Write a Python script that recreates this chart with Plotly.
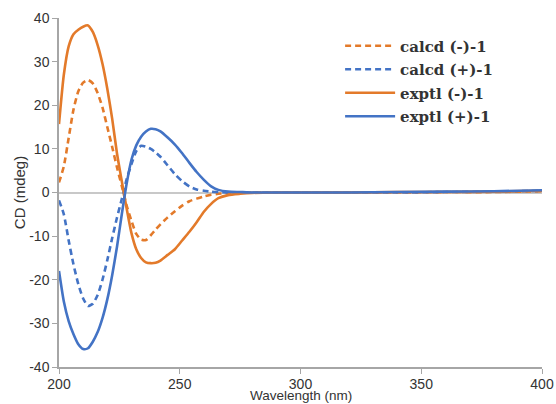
import plotly.graph_objects as go

# Wavelength grid (nm)
wavelength = [200, 202, 204, 206, 208, 210, 212, 214, 216, 218, 220, 222, 224, 226,
              228, 230, 232, 234, 236, 238, 240, 242, 245, 248, 251, 254, 257, 260,
              263, 266, 270, 275, 280, 290, 300, 320, 340, 360, 380, 400]

calcd_minus = [2.3, 6.0, 12.5, 19.0, 23.2, 25.2, 25.8, 25.0, 22.8, 19.5, 15.0, 10.5, 5.8, 1.5,
               -3.0, -6.5, -9.5, -10.8, -10.9, -9.8, -8.5, -7.3, -5.7, -4.3, -3.0, -2.0, -1.4, -0.9,
               -0.5, -0.3, -0.1, 0.0, 0.0, 0.0, 0.0, 0.0, 0.0, 0.1, 0.1, 0.3]

calcd_plus = [-1.8, -5.0, -11.0, -16.5, -21.0, -24.3, -26.0, -25.5, -23.5, -20.0, -15.5, -10.5, -5.8, -1.5,
              3.0, 6.5, 9.5, 10.7, 10.5, 10.0, 9.2, 8.2, 6.2, 4.2, 2.6, 1.4, 0.7, 0.4,
              0.2, 0.1, 0.0, 0.0, 0.0, 0.0, 0.0, 0.0, 0.0, 0.1, 0.2, 0.4]

exptl_minus = [15.7, 27.0, 33.5, 36.3, 37.3, 38.0, 38.3, 36.8, 33.8, 29.5, 23.8, 17.0, 9.0, 2.6,
               -3.6, -9.3, -13.0, -15.0, -16.0, -16.2, -16.1, -15.6, -14.3, -13.0, -11.0, -9.0, -6.8, -4.4,
               -2.6, -1.3, -0.6, -0.3, -0.1, 0.0, 0.0, 0.0, 0.1, 0.1, 0.2, 0.4]

exptl_plus = [-18.0, -25.0, -29.5, -32.5, -34.8, -35.9, -35.7, -34.2, -32.0, -28.8, -24.5, -19.0, -12.5, -5.0,
              2.0, 7.5, 10.8, 12.8, 14.0, 14.6, 14.5, 14.0, 12.6, 11.0, 9.0, 6.8, 4.7, 2.9,
              1.4, 0.6, 0.2, 0.1, 0.0, 0.0, 0.0, 0.0, 0.1, 0.2, 0.3, 0.5]

series_names = ["calcd\u00a0(-)-1", "calcd\u00a0(+)-1", "exptl\u00a0(-)-1", "exptl\u00a0(+)-1"]
x_ticks = [200, 250, 300, 350, 400]
y_ticks = [-40, -30, -20, -10, 0, 10, 20, 30, 40]
y_tick_text = ["-40", "-30", "-20", "-10", "0", "10", "20", "30", "40"]
x_title = "Wavelength (nm)"
y_title = "CD (mdeg)"

ORANGE = "#E37A2A"
BLUE = "#4373C5"

fig = go.Figure()
styles = [
    (calcd_minus, ORANGE, "6px,4px"),
    (calcd_plus, BLUE, "6px,4px"),
    (exptl_minus, ORANGE, "solid"),
    (exptl_plus, BLUE, "solid"),
]
for i, (vals, col, dash) in enumerate(styles):
    fig.add_trace(go.Scatter(
        x=wavelength, y=vals, mode="lines", name=series_names[i],
        legendgroup=f"g{i}",
        line=dict(color=col, width=2.6, dash=dash, shape="spline", smoothing=0.6),
    ))

axis_gray = "#a6a6a6"
fig.update_layout(
    width=556, height=404,
    margin=dict(l=59, r=14, t=18, b=37),
    paper_bgcolor="white", plot_bgcolor="white",
    font=dict(family="Liberation Sans, Arial, sans-serif", size=14, color="#333333"),
    showlegend=True,
    legend=dict(
        x=0.582, y=0.967, xanchor="left", yanchor="top",
        font=dict(family="DejaVu Serif, serif", size=15, color="#333333", weight="bold"),
        itemwidth=50, tracegroupgap=1, bgcolor="rgba(0,0,0,0)",
    ),
    xaxis=dict(
        range=[200, 400], tickvals=x_ticks, ticks="outside", ticklen=5,
        tickcolor=axis_gray, showline=True, linecolor=axis_gray, linewidth=1.5,
        showgrid=False, zeroline=False, automargin=False, ticklabelstandoff=-2,
    ),
    yaxis=dict(
        range=[-40, 40], tickvals=y_ticks, ticktext=y_tick_text, ticks="outside", ticklen=5,
        tickcolor=axis_gray, showline=True, linecolor=axis_gray, linewidth=1.5,
        showgrid=False, zeroline=True, zerolinecolor="#c8c8c8", zerolinewidth=1.5,
        automargin=False,
        title=dict(text=y_title, standoff=0, font=dict(size=15)),
    ),
    annotations=[dict(
        text=x_title, xref="paper", yref="paper", x=0.5, y=0,
        xanchor="center", yanchor="top", yshift=-19, showarrow=False,
        font=dict(size=13.5, color="#333333"),
    )],
)

fig.write_html(
    "out.html",
    config={"displayModeBar": False},
    post_script="document.body.style.margin='0';document.body.style.overflow='hidden';",
)
